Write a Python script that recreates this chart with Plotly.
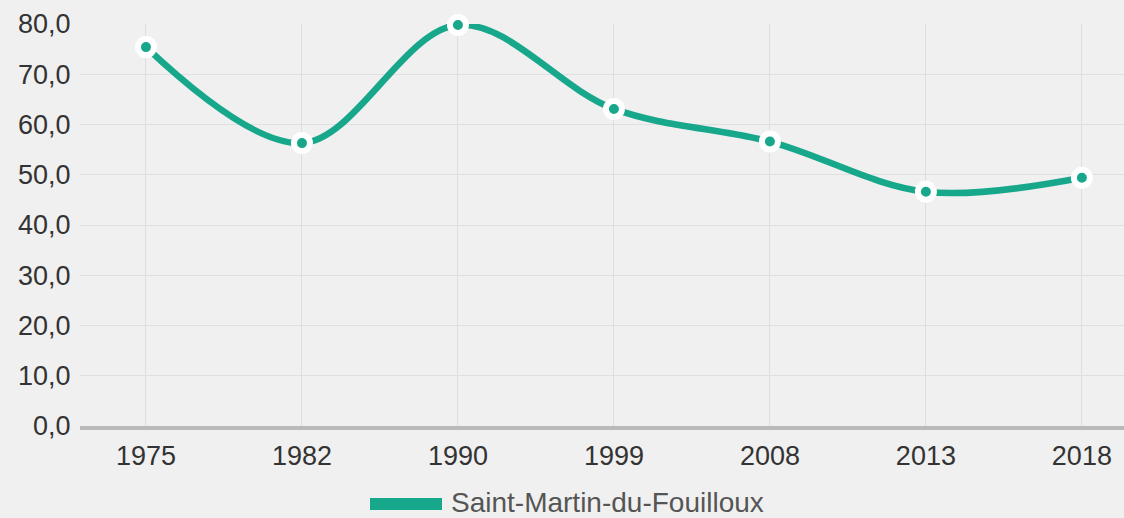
import plotly.graph_objects as go

years = ["1975", "1982", "1990", "1999", "2008", "2013", "2018"]
values = [75.4, 56.3, 79.8, 63.1, 56.6, 46.6, 49.4]
series_name = "Saint-Martin-du-Fouilloux"

teal = "#17a78b"

fig = go.Figure()
fig.add_trace(go.Scatter(
    x=years, y=values, mode="lines+markers", name=series_name,
    line=dict(color=teal, width=6.5, shape="spline", smoothing=1.0),
    marker=dict(size=16, color=teal, line=dict(color="white", width=6)),
    cliponaxis=False, showlegend=False,
))

# custom legend
fig.add_shape(type="rect", xref="paper", yref="paper",
              x0=(370 - 80) / 1044, x1=(442 - 80) / 1044,
              y0=-(498 - 426) / 402, y1=-(510 - 426) / 402,
              fillcolor=teal, line=dict(width=0))
fig.add_annotation(text=series_name, xref="paper", yref="paper",
                   x=(449 - 80) / 1044, y=-(502 - 426) / 402,
                   xanchor="left", yanchor="middle", showarrow=False,
                   font=dict(family="Liberation Sans, Arial", size=28, color="#555555"))

fig.update_layout(
    width=1124, height=518,
    margin=dict(l=80, r=0, t=24, b=92),
    paper_bgcolor="#f0f0f0", plot_bgcolor="#f0f0f0",
    separators=", ",
    font=dict(family="Liberation Sans, Arial", size=27, color="#333333"),
    xaxis=dict(
        type="category", range=[-0.423, 6.27],
        showgrid=True, gridcolor="#dedede", gridwidth=1,
        showline=True, linecolor="#b9b9b9", linewidth=4,
        ticks="outside", ticklen=3, tickcolor="rgba(0,0,0,0)",
        zeroline=False,
    ),
    yaxis=dict(
        range=[0, 80], dtick=10, tickformat=".1f",
        showgrid=True, gridcolor="#e0e0e0", gridwidth=1,
        zeroline=False, showline=False,
        ticks="outside", ticklen=3, tickcolor="rgba(0,0,0,0)",
    ),
)

fig.write_html(
    "out.html",
    config={"displayModeBar": False},
    post_script="document.body.style.margin='0';document.body.style.overflow='hidden';",
)
